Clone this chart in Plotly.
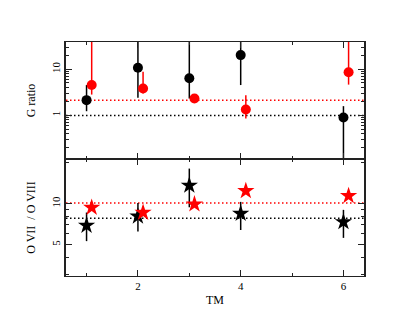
import plotly.graph_objects as go
from plotly.subplots import make_subplots

# ---- data ----
tm_black = [1, 2, 3, 4, 6]
tm_red = [1.1, 2.1, 3.1, 4.1, 6.1]

g_black = [2.12, 10.7, 6.3, 20.1, 0.89]
g_black_hi = [4.5, 100, 100, 100, 1.57]
g_black_lo = [1.22, 2.4, 2.3, 4.5, 0.05]

g_red = [4.5, 3.8, 2.3, 1.33, 8.5]
g_red_hi = [100, 8.7, 2.5, 2.72, 100]
g_red_lo = [2.8, 2.96, 2.15, 0.85, 4.6]

o_black = [6.9, 8.07, 13.6, 8.44, 7.33]
o_black_hi = [8.6, 10.1, 18.1, 10.3, 9.0]
o_black_lo = [5.3, 6.25, 9.4, 6.4, 5.6]

o_red = [9.35, 8.6, 9.9, 12.4, 11.4]
o_red_hi = [9.6, 8.85, 10.2, 12.7, 11.7]
o_red_lo = [9.1, 8.35, 9.6, 12.1, 11.1]

g_ref_black = 0.98
g_ref_red = 2.12
o_ref_black = 7.8
o_ref_red = 10.1

x_ticks_major = [2, 4, 6]
x_ticks_minor = [1, 3, 5]
g_ticks = [1, 10]
g_minor = [0.2, 0.3, 0.4, 0.5, 0.6, 0.7, 0.8, 0.9, 2, 3, 4, 5, 6, 7, 8, 9, 20, 30]
o_ticks = [5, 10]
o_minor = [3, 4, 6, 7, 8, 9, 20]

BLACK = "#000000"
RED = "#ff0000"
AX = "#222222"
FONT = "Liberation Serif"


def err(y, hi, lo):
    return dict(type="data", symmetric=False,
                array=[h - v for h, v in zip(hi, y)],
                arrayminus=[v - l for v, l in zip(y, lo)],
                width=0, thickness=1.5)


fig = make_subplots(rows=2, cols=1, shared_xaxes=True, vertical_spacing=0)

e = err(g_black, g_black_hi, g_black_lo); e["color"] = BLACK
fig.add_trace(go.Scatter(x=tm_black, y=g_black, mode="markers",
                         marker=dict(symbol="circle", size=10, color=BLACK),
                         error_y=e, showlegend=False), row=1, col=1)
e = err(g_red, g_red_hi, g_red_lo); e["color"] = RED
fig.add_trace(go.Scatter(x=tm_red, y=g_red, mode="markers",
                         marker=dict(symbol="circle", size=10, color=RED),
                         error_y=e, showlegend=False), row=1, col=1)

e = err(o_black, o_black_hi, o_black_lo); e["color"] = BLACK
fig.add_trace(go.Scatter(x=tm_black, y=o_black, mode="markers",
                         marker=dict(symbol="star", size=13, color=BLACK, line=dict(width=0)),
                         error_y=e, showlegend=False), row=2, col=1)
e = err(o_red, o_red_hi, o_red_lo); e["color"] = RED
fig.add_trace(go.Scatter(x=tm_red, y=o_red, mode="markers",
                         marker=dict(symbol="star", size=13, color=RED, line=dict(width=0)),
                         error_y=e, showlegend=False), row=2, col=1)

# reference dotted lines
for yref, val, col in [("y", g_ref_black, BLACK), ("y", g_ref_red, RED),
                       ("y2", o_ref_black, BLACK), ("y2", o_ref_red, RED)]:
    fig.add_shape(type="line", xref="x domain" if yref == "y" else "x2 domain",
                  x0=0, x1=1, yref=yref, y0=val, y1=val,
                  line=dict(color=col, width=1.5, dash="1.5px,2.5px"), layer="below")

xcommon = dict(range=[0.6, 6.4], showline=True, linecolor=AX, linewidth=1.2,
               mirror="ticks", ticks="inside", ticklen=6, tickwidth=1.2, tickcolor=AX,
               tickvals=x_ticks_major, showgrid=False, zeroline=False,
               minor=dict(tickvals=x_ticks_minor, ticks="inside", ticklen=3,
                          tickwidth=1.2, tickcolor=AX, showgrid=False))
fig.update_xaxes(**xcommon)
fig.update_xaxes(showticklabels=False, row=1, col=1)
fig.update_xaxes(ticktext=["2", "4", "6"], row=2, col=1,
                 title=dict(text="TM", standoff=4, font=dict(size=12, family=FONT, color=BLACK)))

ycommon = dict(type="log", showline=True, linecolor=AX, linewidth=1.5,
               mirror="ticks", ticks="inside", ticklen=6, tickwidth=1.2, tickcolor=AX,
               showgrid=False, zeroline=False, tickangle=-90)
fig.update_yaxes(**ycommon)
fig.update_yaxes(range=[-0.95, 1.587], tickvals=g_ticks, ticktext=["1", "10"],
                 minor=dict(tickvals=g_minor, ticks="inside", ticklen=3, tickwidth=1,
                            tickcolor=AX, showgrid=False),
                 title=dict(text="G ratio", standoff=12, font=dict(size=12, family=FONT, color=BLACK)),
                 row=1, col=1)
fig.update_yaxes(range=[0.468, 1.328], tickvals=o_ticks, ticktext=["5", "10"],
                 minor=dict(tickvals=o_minor, ticks="inside", ticklen=3, tickwidth=1,
                            tickcolor=AX, showgrid=False),
                 title=dict(text="O VII  / O VIII", standoff=12, font=dict(size=12, family=FONT, color=BLACK)),
                 row=2, col=1)

fig.update_layout(width=411, height=318,
                  margin=dict(l=58, r=55, t=34, b=50, autoexpand=False),
                  paper_bgcolor="white", plot_bgcolor="white",
                  font=dict(family=FONT, size=11, color=BLACK),
                  showlegend=False)

fig.write_html("out.html")
